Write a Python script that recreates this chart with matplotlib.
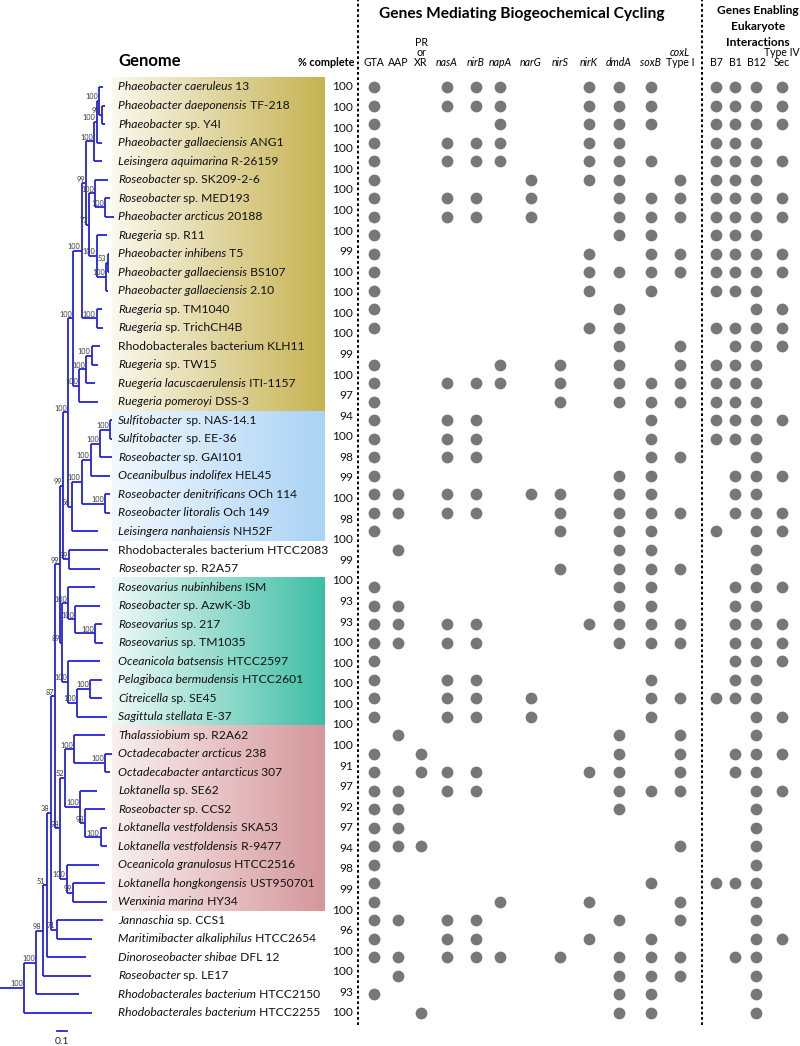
import numpy as np
import matplotlib
matplotlib.use("Agg")
import matplotlib.pyplot as plt
from matplotlib.collections import LineCollection
from matplotlib.colors import LinearSegmentedColormap

# ------------------------------------------------------------------ data
genome_italic = [
    "Phaeobacter caeruleus", "Phaeobacter daeponensis", "Phaeobacter", "Phaeobacter gallaeciensis",
    "Leisingera aquimarina", "Roseobacter", "Roseobacter", "Phaeobacter arcticus", "Ruegeria",
    "Phaeobacter inhibens", "Phaeobacter gallaeciensis", "Phaeobacter gallaeciensis", "Ruegeria",
    "Ruegeria", "", "Ruegeria", "Ruegeria lacuscaerulensis", "Ruegeria pomeroyi",
    "Sulfitobacter", "Sulfitobacter", "Roseobacter", "Oceanibulbus indolifex",
    "Roseobacter denitrificans", "Roseobacter litoralis", "Leisingera nanhaiensis", "", "Roseobacter",
    "Roseovarius nubinhibens", "Roseobacter", "Roseovarius", "Roseovarius", "Oceanicola batsensis",
    "Pelagibaca bermudensis", "Citreicella", "Sagittula stellata",
    "Thalassiobium", "Octadecabacter arcticus", "Octadecabacter antarcticus", "Loktanella",
    "Roseobacter", "Loktanella vestfoldensis", "Loktanella vestfoldensis", "Oceanicola granulosus",
    "Loktanella hongkongensis", "Wenxinia marina",
    "Jannaschia", "Maritimibacter alkaliphilus", "Dinoroseobacter shibae", "Roseobacter",
    "Rhodobacterales bacterium", "Rhodobacterales bacterium"]
genome_roman = [
    "13", "TF-218", "sp. Y4I", "ANG1", "R-26159", "sp. SK209-2-6", "sp. MED193", "20188", "sp. R11",
    "T5", "BS107", "2.10", "sp. TM1040", "sp. TrichCH4B", "Rhodobacterales bacterium KLH11",
    "sp. TW15", "ITI-1157", "DSS-3",
    "sp. NAS-14.1", "sp. EE-36", "sp. GAI101", "HEL45", "OCh 114", "Och 149", "NH52F",
    "Rhodobacterales bacterium HTCC2083", "sp. R2A57",
    "ISM", "sp. AzwK-3b", "sp. 217", "sp. TM1035", "HTCC2597", "HTCC2601", "sp. SE45", "E-37",
    "sp. R2A62", "238", "307", "sp. SE62", "sp. CCS2", "SKA53", "R-9477", "HTCC2516", "UST950701",
    "HY34", "sp. CCS1", "HTCC2654", "DFL 12", "sp. LE17", "HTCC2150", "HTCC2255"]

# "% complete" column (printed as its own list in the source figure)
pct_complete = [100, 100, 100, 100, 100, 100, 100, 100, 99, 100, 100, 100, 100, 99, 100, 97,
                94, 100, 98, 99, 100, 98, 100, 99, 100, 93, 93, 100, 100, 100, 100, 100,
                100, 91, 97, 92, 97, 94, 98, 99, 100, 96, 100, 100, 93, 100]

gene_columns = ["GTA", "AAP", "PR or XR", "nasA", "nirB", "napA", "narG", "nirS", "nirK",
                "dmdA", "soxB", "coxL Type I", "B7", "B1", "B12", "Type IV Sec"]
gene_header_lines = [["GTA"], ["AAP"], ["PR", "or", "XR"], ["nasA"], ["nirB"], ["napA"],
                     ["narG"], ["nirS"], ["nirK"], ["dmdA"], ["soxB"], ["coxL", "Type I"],
                     ["B7"], ["B1"], ["B12"], ["Type IV", "Sec"]]
italic_words = ["nasA", "nirB", "napA", "narG", "nirS", "nirK", "dmdA", "soxB", "coxL"]

# presence matrix: one string per genome, one char per gene column ('x' = present)
presence = [
    "x..xxx..xxx.xxxx", "x..xxx..xxx.xxxx", "x....x..xxx.xxxx", "x..xxx..xx..xxx.",
    "x..xxx..xxx.xxxx", "x.....x.xx.xxxx.", "x..xx.x..xxxxxxx", "x..xx.x..xxxxxxx",
    "x........xx.xxx.", "x.......x.xxxxxx", "x.......xxxxxxxx", "x.......x.x.xxx.",
    "x........x....xx", "x.......xx..xxxx", ".........x.x.xxx", "x....x.x.x.xxxx.",
    "x..xxx.x.xxxxxx.", "x......x.xxxxxx.",
    "x..xx.....x.xxxx", "x..xx.....x.xxx.", "x..xx.....xx..x.", "x........xx..xxx",
    "xx.xx.xx.xx..xx.", "xx.xx..x.xxx.xxx", "x......x.xx.x.xx", ".x.......xx...x.",
    ".......x.xxx..x.",
    "x........xx..xxx", "xx.......xx..xx.", "xx.xx...xxxx.xxx", "xx.xx....xxx.xxx",
    "x............xxx", "x..xx.....x..xx.", "x..xx.x...xxxxx.", "x..xx.x...x...xx",
    ".x.......x.x..x.", "x.x......x.x.xxx", "x.xxx...xx.x.xx.", "xx.xx....xxx..xx",
    "xx.......x....x.", "xx............x.", "xxx........x..x.", "x.............x.",
    "x.........x.xxx.", "x....x..x..x..x.",
    "xx.xx....x.x..x.", "x..xx...x.x...xx", "xx.xxx.x.xxx.xx.", ".x.......xxx..x.",
    "x........xx...x.", "..x......xx...x."]

# phylogeny (tips are genome row numbers 1..51), bootstrap support as node labels
tree_newick = (
    "(((((((((((((((1:0.04,(2:0.033,3:0.033)90:0.027)100:0.023,4:0.05)100:0.024,5:0.074)100:0.083,"
    "((6:0.13,(7:0.05,8:0.09)100:0.10)100:0.057,(9:0.103,((10:0.015,11:0.015)53:0.015,12:0.02)100:0.093)100:0.074)77:0.033)99:0.043,"
    "(13:0.05,14:0.066)100:0.15)100:0.084,"
    "(((15:0.083,16:0.066)100:0.057,17:0.09)100:0.067,18:0.187)100:0.06)100:0.05,"
    "(((((19:0.02,20:0.02)100:0.10,21:0.12)100:0.093,22:0.193)100:0.09,(23:0.05,24:0.05)100:0.233)100:0.10,25:0.266)56:0.034)100:0.05,"
    "(26:0.387,27:0.307)99:0.06)99:0.033,"
    "((28:0.267,(29:0.25,(30:0.067,31:0.083)100:0.20)100:0.067)100:0.066,"
    "(32:0.317,((33:0.117,34:0.117)100:0.127,35:0.294)100:0.09)100:0.066)89:0.017)99:0.05,"
    "(((36:0.31,(37:0.067,38:0.05)100:0.31)100:0.09,(39:0.173,(40:0.20,(41:0.06,42:0.06)100:0.157)98:0.05)100:0.15)52:0.05,"
    "(43:0.326,(44:0.317,45:0.334)99:0.066)100:0.067)98:0.05)87:0.043,"
    "(46:0.467,47:0.35)71:0.06)38:0.04,48:0.393)51:0.04,49:0.483)98:0.067,50:0.43)100:0.12,51:0.677)100:0.24;")

# clade shading: first and last genome row (1-based) of each highlighted group
clade_rows = [(1, 18), (19, 25), (28, 35), (36, 45)]
scale_bar_length = 0.1

# ------------------------------------------------------------------ style / layout
FONT = "Lato"
plt.rcParams["font.family"] = [FONT, "DejaVu Sans"]
W, H, DPI = 800, 1046, 100
ROW0_PX, ROW_PX = 87.0, 18.52          # pixel y of first row, row pitch
TREE_PX_PER_UNIT = 100.0
col_x = [374, 398, 421, 447, 476, 500, 531, 560, 589, 619, 651, 680, 716, 735, 756, 782]
clade_colors = [("#fbf8ee", "#c6b352"), ("#f2f8fe", "#aad3f5"),
                ("#f0faf7", "#3dbea5"), ("#faf0f0", "#d4979b")]
TREE_COLOR = "#2424d8"
DOT_COLOR = "#777777"
NAME_X = 118
BOX_X0, BOX_X1 = 112, 325


def fx(px):
    return px / W


def fy(py):
    return 1 - py / H


fig = plt.figure(figsize=(W / DPI, H / DPI), dpi=DPI)
y_top = -ROW0_PX / ROW_PX
y_bot = (H - ROW0_PX) / ROW_PX

ax = fig.add_axes([0, 0, 1, 1])
ax.set_xlim(0, W)
ax.set_ylim(y_bot, y_top)
ax.set_autoscale_on(False)
ax.axis("off")

tax = fig.add_axes([0, 0, 1, 1])
tax.set_xlim(0, W / TREE_PX_PER_UNIT)
tax.set_ylim(y_bot, y_top)
tax.set_autoscale_on(False)
tax.axis("off")

# ------------------------------------------------------------------ clade shading
grad = np.linspace(0, 1, 256).reshape(1, -1)
for (r0, r1), (c0, c1) in zip(clade_rows, clade_colors):
    cmap = LinearSegmentedColormap.from_list("c", [c0, c1])
    ax.imshow(grad, cmap=cmap, aspect="auto", interpolation="bilinear",
              extent=[BOX_X0, BOX_X1, r1 - 1 + 0.5, r0 - 1 - 0.5], zorder=0)

# ------------------------------------------------------------------ tree
def parse_newick(s):
    pos = 0

    def node():
        nonlocal pos
        n = {"children": [], "name": None, "support": None, "length": 0.0}
        if s[pos] == "(":
            pos += 1
            while True:
                n["children"].append(node())
                if s[pos] == ",":
                    pos += 1
                    continue
                pos += 1  # ')'
                break
        st = pos
        while s[pos] not in ":,);":
            pos += 1
        lab = s[st:pos]
        if lab:
            if n["children"]:
                n["support"] = lab
            else:
                n["name"] = lab
        if s[pos] == ":":
            pos += 1
            st = pos
            while s[pos] not in ",);":
                pos += 1
            n["length"] = float(s[st:pos])
        return n

    return node()


root = parse_newick(tree_newick)


def layout(n, x0):
    n["x0"] = x0
    n["x"] = x0 + n["length"]
    if n["children"]:
        for c in n["children"]:
            layout(c, n["x"])
        n["y"] = (n["children"][0]["y"] + n["children"][-1]["y"]) / 2
    else:
        n["y"] = int(n["name"]) - 1


layout(root, 0.0)
segs, supports = [], []


def collect(n):
    segs.append([(n["x0"], n["y"]), (n["x"], n["y"])])
    if n["children"]:
        segs.append([(n["x"], n["children"][0]["y"]), (n["x"], n["children"][-1]["y"])])
        if n["support"]:
            supports.append((n["x"], n["y"], n["support"]))
        for c in n["children"]:
            collect(c)


collect(root)
tax.add_collection(LineCollection(segs, colors=TREE_COLOR, linewidths=1.3, capstyle="butt"))
for x, y, s in supports:
    tax.text(x - 0.012, y - 0.03, s, ha="right", va="bottom", fontsize=5.3, color="#3a3a3a")

# scale bar
sb_x = 0.57
sb_y = len(genome_italic) - 1 + 0.97
tax.plot([sb_x, sb_x + scale_bar_length], [sb_y, sb_y], color=TREE_COLOR, lw=1.3)
tax.text(sb_x + scale_bar_length / 2, sb_y + 0.35, f"{scale_bar_length:g}", ha="center", va="top",
         fontsize=7.5, color="#222222")

# ------------------------------------------------------------------ genome names
NAME_FS = 8.75
for i, (it, ro) in enumerate(zip(genome_italic, genome_roman)):
    if it:
        t = ax.text(NAME_X, i, it, style="italic", fontsize=NAME_FS, va="center", ha="left",
                    color="#111111", zorder=3)
        ax.annotate(" " + ro, xy=(1, 0), xycoords=t, va="bottom", ha="left",
                    fontsize=NAME_FS, color="#111111", zorder=3)
    else:
        ax.text(NAME_X, i, ro, fontsize=NAME_FS, va="center", ha="left", color="#111111", zorder=3)

# % complete (its own evenly spaced column)
pct_y = np.linspace(0, len(genome_italic) - 1, len(pct_complete))
for v, y in zip(pct_complete, pct_y):
    ax.text(353, y, str(v), ha="right", va="center", fontsize=8.6, color="#111111")

# ------------------------------------------------------------------ presence dots
xs, ys = [], []
for i, row in enumerate(presence):
    for j, ch in enumerate(row):
        if ch == "x":
            xs.append(col_x[j])
            ys.append(i)
ax.scatter(xs, ys, s=72, c=DOT_COLOR, linewidths=0, zorder=3)

# separators
for xv in (358, 702):
    ax.axvline(xv, ymin=0.02, ymax=1.0, color="black", lw=1.4, linestyle=(0, (1.4, 1.3)))

# ------------------------------------------------------------------ headers
fig.text(fx(522), fy(14), "Genes Mediating Biogeochemical Cycling", ha="center", va="center",
         fontsize=11.2, fontweight="bold")
for k, line in enumerate(["Genes Enabling", "Eukaryote", "Interactions"]):
    fig.text(fx(758), fy(11 + k * 15.5), line, ha="center", va="center", fontsize=8.6,
             fontweight="bold")
fig.text(fx(NAME_X), fy(61), "Genome", ha="left", va="center", fontsize=12, fontweight="bold")
fig.text(fx(354), fy(62), "% complete", ha="right", va="center", fontsize=7.8, fontweight="bold")

LINE_STEP = 9.8
for j, lines in enumerate(gene_header_lines):
    n = len(lines)
    for k, ln in enumerate(lines):
        py = 62 - (n - 1 - k) * LINE_STEP
        fig.text(fx(col_x[j]), fy(py), ln, ha="center", va="center", fontsize=7.6,
                 style="italic" if ln in italic_words else "normal")

fig.savefig("out.png", dpi=DPI)
